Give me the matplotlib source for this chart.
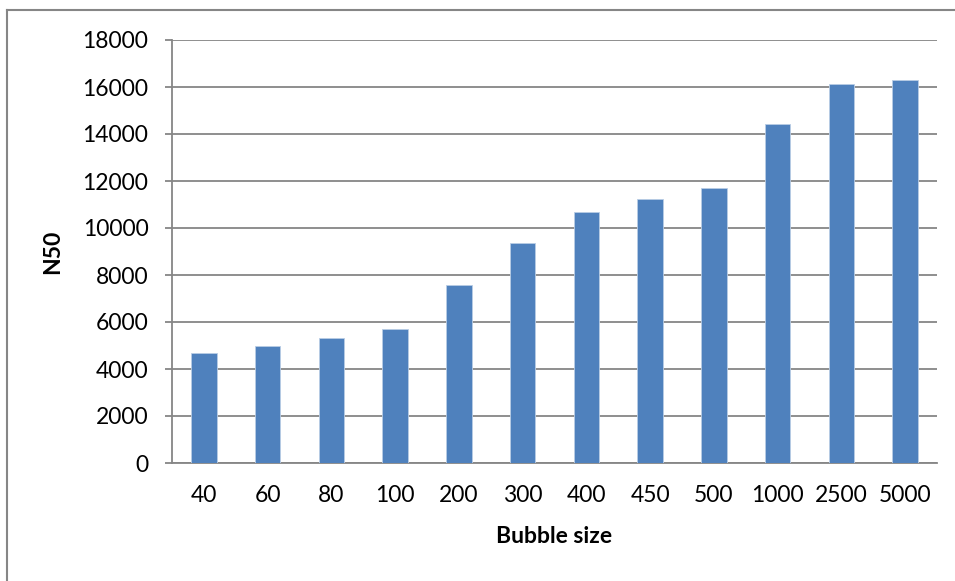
import matplotlib.pyplot as plt
from matplotlib.lines import Line2D

# bubble size vs N50
bubble_size = ['40', '60', '80', '100', '200', '300', '400', '450', '500', '1000', '2500', '5000']
n50 = [4670, 4990, 5330, 5690, 7560, 9370, 10690, 11250, 11700, 14410, 16140, 16300]
y_ticks = [0, 2000, 4000, 6000, 8000, 10000, 12000, 14000, 16000, 18000]

plt.rcParams['font.family'] = ['Lato', 'DejaVu Sans']
grey = '#868686'

fig = plt.figure(figsize=(9.55, 5.81), dpi=100)
ax = fig.add_axes([172 / 955, 118 / 581, 765 / 955, 423 / 581])

x = range(len(bubble_size))
ax.bar(x, n50, width=0.4, color='#4F81BD', edgecolor='#B9CDE5', linewidth=0.6, zorder=3)

ax.set_xlim(-0.5, len(bubble_size) - 0.5)
ax.set_ylim(0, 18000)
ax.set_yticks(y_ticks)
ax.set_yticklabels([str(v) for v in y_ticks])
ax.set_xticks(list(x))
ax.set_xticklabels(bubble_size)

ax.grid(axis='y', color=grey, linewidth=1.3, zorder=0)
for s in ['top', 'right']:
    ax.spines[s].set_visible(False)
ax.spines['left'].set_color(grey)
ax.spines['bottom'].set_color(grey)
ax.spines['left'].set_linewidth(1.3)
ax.spines['bottom'].set_linewidth(1.3)

ax.tick_params(axis='y', length=5, width=1.3, color=grey, labelsize=16.5, pad=12)
ax.tick_params(axis='x', length=0, labelsize=16.5, pad=16)

ax.set_xlabel('Bubble size', fontsize=16.5, fontweight='bold', labelpad=14)
ax.set_ylabel('N50', fontsize=16.5, fontweight='bold', labelpad=14)

# chart area border (only left and top edges are visible in the crop)
fig.add_artist(Line2D([7 / 955, 7 / 955], [0, 1 - 10 / 581], color=grey, linewidth=1.5))
fig.add_artist(Line2D([7 / 955, 1], [1 - 10 / 581, 1 - 10 / 581], color=grey, linewidth=1.5))

fig.savefig('out.png', dpi=100)
